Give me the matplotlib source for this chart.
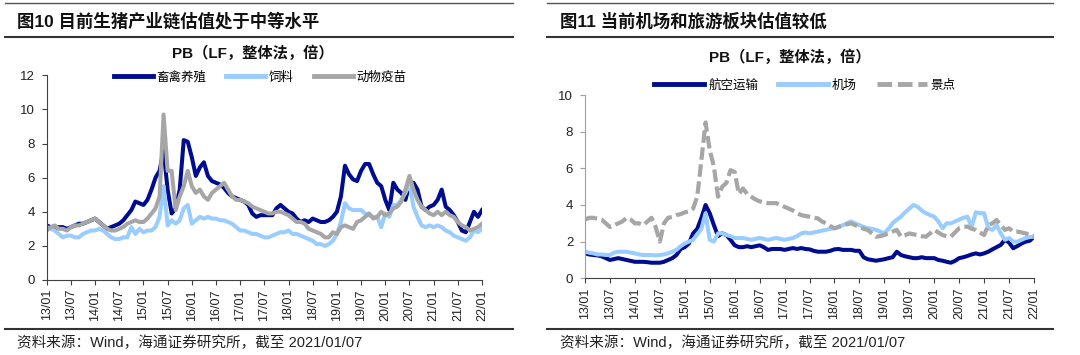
import numpy as np
import matplotlib
matplotlib.use("Agg")
import matplotlib.pyplot as plt
from matplotlib.lines import Line2D

# month index 0 = 2013/01 ... 108 = 2022/01
tick_labels = ["13/01", "13/07", "14/01", "14/07", "15/01", "15/07", "16/01", "16/07",
               "17/01", "17/07", "18/01", "18/07", "19/01", "19/07", "20/01", "20/07",
               "21/01", "21/07", "22/01"]

# 图10: PB of pig industry chain
livestock = [3.2, 3.1, 3.0, 3.1, 3.1, 3.0, 3.1, 3.2, 3.3, 3.3, 3.4, 3.5, 3.6, 3.4, 3.2, 3.0,
             3.1, 3.2, 3.3, 3.5, 3.8, 4.1, 4.6, 4.5, 4.4, 4.7, 5.3, 6.0, 6.4, 7.6, 5.3, 3.9,
             4.2, 5.3, 8.2, 8.1, 7.2, 6.1, 6.6, 6.9, 6.1, 5.8, 5.7, 5.6, 5.4, 5.1, 4.9, 4.8,
             4.7, 4.6, 4.4, 3.9, 3.7, 3.8, 3.8, 3.8, 3.8, 4.2, 4.4, 4.2, 4.0, 3.9, 3.6, 3.4,
             3.5, 3.4, 3.6, 3.5, 3.4, 3.4, 3.5, 3.7, 4.0, 4.9, 6.7, 6.2, 5.9, 5.8, 6.4, 6.8,
             6.8, 6.2, 5.7, 5.5, 4.7, 4.1, 5.7, 5.3, 5.1, 4.7, 5.6, 5.7, 5.3, 4.3, 4.1, 4.3,
             4.4, 4.7, 5.3, 4.3, 4.1, 3.8, 3.4, 2.9, 2.8, 3.4, 4.0, 3.7, 4.1]
feed = [3.1, 3.0, 2.9, 2.7, 2.5, 2.6, 2.6, 2.5, 2.5, 2.7, 2.8, 2.9, 2.9, 3.0, 2.9, 2.7,
        2.5, 2.4, 2.4, 2.5, 2.5, 3.1, 2.7, 3.0, 2.8, 2.9, 2.9, 3.1, 3.7, 5.5, 3.2, 3.5,
        3.3, 3.5, 4.2, 4.4, 3.3, 3.5, 3.7, 3.6, 3.7, 3.6, 3.6, 3.5, 3.5, 3.4, 3.3, 3.1,
        2.9, 2.9, 2.8, 2.7, 2.7, 2.6, 2.5, 2.5, 2.6, 2.7, 2.8, 2.8, 2.9, 2.7, 2.7, 2.6,
        2.5, 2.4, 2.3, 2.1, 2.1, 2.0, 2.1, 2.3, 2.7, 3.4, 4.5, 4.2, 4.1, 4.1, 4.1, 3.9,
        3.8, 3.7, 3.7, 3.1, 3.9, 3.7, 4.4, 4.4, 4.7, 5.1, 5.7, 4.3, 3.7, 3.2, 3.1, 3.2,
        3.1, 3.2, 3.1, 2.9, 2.8, 2.6, 2.5, 2.4, 2.3, 2.5, 2.9, 2.8, 3.0]
vaccine = [2.9, 3.1, 3.2, 3.0, 3.0, 2.9, 3.1, 3.2, 3.2, 3.3, 3.4, 3.5, 3.6, 3.4, 3.2, 3.0,
           2.9, 2.9, 3.0, 3.1, 3.3, 3.4, 3.5, 3.4, 3.4, 3.6, 3.9, 4.2, 4.9, 9.7, 6.4, 6.4,
           4.1, 4.9, 5.5, 6.4, 5.5, 5.1, 5.3, 4.9, 4.7, 5.1, 5.3, 5.5, 5.7, 5.3, 4.9, 4.7,
           4.7, 4.6, 4.5, 4.3, 4.2, 4.1, 4.0, 3.9, 3.9, 4.0, 4.0, 3.9, 3.8, 3.6, 3.4, 3.4,
           3.3, 3.0, 2.9, 2.8, 2.7, 2.5, 2.5, 2.8, 2.7, 3.1, 3.2, 3.1, 3.0, 3.4, 3.5, 3.7,
           3.9, 3.6, 3.7, 4.0, 3.8, 3.9, 4.2, 4.3, 4.6, 5.3, 6.1, 5.3, 4.7, 4.3, 4.1, 3.9,
           3.8, 4.0, 3.8, 4.0, 3.8, 3.7, 3.4, 3.2, 3.1, 2.9, 3.0, 3.1, 3.3]

# 图11: PB of airlines, airports, scenic spots
airline = [1.36, 1.3, 1.27, 1.25, 1.2, 1.1, 1.0, 1.05, 1.1, 1.05, 1.0, 0.95, 0.9, 0.9, 0.9, 0.88,
           0.85, 0.85, 0.85, 0.9, 1.0, 1.1, 1.27, 1.6, 1.7, 1.9, 2.45, 2.7, 3.3, 4.0, 3.55, 2.9,
           2.3, 2.45, 2.36, 2.1, 1.8, 1.7, 1.7, 1.75, 1.7, 1.75, 1.8, 1.7, 1.55, 1.6, 1.6, 1.6,
           1.55, 1.6, 1.65, 1.6, 1.65, 1.6, 1.58, 1.5, 1.45, 1.45, 1.45, 1.5, 1.58, 1.6, 1.55, 1.55,
           1.55, 1.5, 1.5, 1.15, 1.04, 1.0, 0.96, 1.0, 1.04, 1.1, 1.15, 1.45, 1.27, 1.2, 1.15, 1.1,
           1.1, 1.15, 1.1, 1.1, 1.1, 1.0, 0.96, 0.9, 0.85, 0.95, 1.1, 1.15, 1.22, 1.3, 1.36, 1.3,
           1.36, 1.45, 1.58, 1.7, 1.82, 2.1, 1.95, 1.64, 1.76, 1.9, 2.0, 2.05, 2.27]
airport = [1.45, 1.4, 1.36, 1.3, 1.3, 1.27, 1.27, 1.4, 1.45, 1.45, 1.45, 1.4, 1.36, 1.3, 1.27, 1.27,
           1.27, 1.25, 1.27, 1.3, 1.36, 1.45, 1.55, 1.75, 1.9, 2.0, 2.1, 2.4, 2.7, 3.55, 2.1, 2.0,
           2.45, 2.45, 2.36, 2.3, 2.2, 2.2, 2.2, 2.15, 2.1, 2.15, 2.2, 2.15, 2.1, 2.15, 2.2, 2.15,
           2.1, 2.15, 2.2, 2.3, 2.45, 2.5, 2.45, 2.5, 2.55, 2.6, 2.64, 2.7, 2.73, 2.8, 2.9, 3.0,
           3.1, 3.0, 2.9, 2.8, 2.73, 2.7, 2.64, 2.55, 2.45, 2.7, 3.0, 3.2, 3.36, 3.6, 3.8, 4.0,
           3.9, 3.7, 3.55, 3.45, 3.36, 3.1, 2.73, 3.0, 3.0, 3.1, 3.2, 3.3, 3.36, 2.8, 3.6, 3.55,
           3.55, 2.73, 2.64, 2.9, 2.45, 2.1, 2.2, 2.0, 2.0, 2.1, 2.2, 2.25, 2.27]
scenic = [3.2, 3.3, 3.3, 3.25, 3.2, 3.0, 2.8, 2.9, 3.0, 3.1, 3.3, 3.2, 3.0, 3.0, 2.9, 3.1,
          3.3, 2.8, 2.0, 3.0, 3.3, 3.35, 3.45, 3.5, 3.6, 3.65, 3.8, 4.45, 6.45, 8.5, 7.0, 6.1,
          4.45, 5.0, 5.2, 5.9, 5.8, 4.6, 4.9, 4.6, 4.45, 4.3, 4.2, 4.15, 4.1, 4.1, 4.1, 4.0,
          3.9, 3.8, 3.7, 3.55, 3.45, 3.4, 3.36, 3.3, 3.27, 3.1, 3.0, 2.85, 2.73, 2.8, 2.9, 2.95,
          3.0, 2.9, 2.8, 2.7, 2.64, 2.45, 2.27, 2.3, 2.36, 2.45, 2.55, 2.64, 2.27, 2.35, 2.45, 2.4,
          2.36, 2.3, 2.27, 2.45, 2.64, 2.5, 2.36, 2.3, 2.27, 2.5, 2.73, 2.8, 2.82, 2.7, 2.64, 2.5,
          2.36, 2.9, 3.0, 3.18, 2.9, 2.64, 2.73, 2.55, 2.55, 2.5, 2.45, 2.35, 2.27]

NAVY = "#000c8f"
LIGHT = "#99ccff"
GREY = "#a6a6a6"
CJK = ["Liberation Sans", "Noto Sans CJK SC"]

W, H = 1080, 355


def fx(px):
    return px / W


def fy(py):
    return 1 - py / H


fig = plt.figure(figsize=(10.8, 3.55), dpi=100)
fig.patch.set_facecolor("white")

months = np.arange(len(livestock))


def style_axis(ax, ymax, ystep, ycolor):
    ax.set_xlim(0, 108)
    ax.set_ylim(0, ymax)
    ax.set_yticks(np.arange(0, ymax + 0.1, ystep))
    ax.set_xticks(np.arange(0, 109, 6))
    ax.set_xticklabels(tick_labels, rotation=90, family="Liberation Sans", fontsize=9)
    for lab in ax.get_yticklabels():
        lab.set_family("Liberation Sans")
        lab.set_fontsize(9.5)
    ax.spines["top"].set_visible(False)
    ax.spines["right"].set_visible(False)
    ax.spines["left"].set_color(ycolor)
    ax.spines["bottom"].set_color("#404040")
    ax.tick_params(axis="y", length=3.5, pad=5, colors="#222222")
    ax.tick_params(axis="y", color=ycolor)
    ax.tick_params(axis="x", length=3.5, pad=3, colors="#222222")
    ax.tick_params(axis="x", color="#404040")


# left chart
axL = fig.add_axes([fx(46.7), fy(280), fx(482 - 46.7), (280 - 75.3) / H])
axL.plot(months, livestock, color=NAVY, lw=2.9, solid_joinstyle="round")
axL.plot(months, feed, color=LIGHT, lw=2.9, solid_joinstyle="round")
axL.plot(months, vaccine, color=GREY, lw=2.9, solid_joinstyle="round")
style_axis(axL, 12, 2, "#404040")

hL = [Line2D([], [], color=NAVY, lw=3.5), Line2D([], [], color=LIGHT, lw=3.5),
      Line2D([], [], color=GREY, lw=3.5)]
axL.legend(hL, ["畜禽养殖", "饲料", "动物疫苗"], loc="center", ncol=3, frameon=False,
           bbox_to_anchor=(fx(260), fy(77)), bbox_transform=fig.transFigure,
           handlelength=3.1, handletextpad=0.3, columnspacing=1.6,
           prop={"family": "Noto Sans CJK SC", "size": 9})

# right chart
axR = fig.add_axes([fx(585), fy(278.3), fx(1034 - 585), (278.3 - 95) / H])
axR.plot(months, airline, color=NAVY, lw=2.9, solid_joinstyle="round")
axR.plot(months, airport, color=LIGHT, lw=2.9, solid_joinstyle="round")
axR.plot(months, scenic, color=GREY, lw=3.0, dashes=(3.0, 1.1), dash_capstyle="butt")
style_axis(axR, 10, 2, "#a0a0a0")

hR = [Line2D([], [], color=NAVY, lw=3.5), Line2D([], [], color=LIGHT, lw=3.5),
      Line2D([], [], color=GREY, lw=3.5, dashes=(3, 1.2))]
axR.legend(hR, ["航空运输", "机场", "景点"], loc="center", ncol=3, frameon=False,
           bbox_to_anchor=(fx(805), fy(85)), bbox_transform=fig.transFigure,
           handlelength=4.0, handletextpad=0.3, columnspacing=1.6,
           prop={"family": "Noto Sans CJK SC", "size": 9})

# frames, titles, notes
for x0, x1 in [(5, 513), (547, 1053)]:
    fig.add_artist(Line2D([fx(x0), fx(x1)], [fy(3.3), fy(3.3)], color="#555555", lw=1.0))
    fig.add_artist(Line2D([fx(x0), fx(x1)], [fy(37), fy(37)], color="#333333", lw=1.5))
    fig.add_artist(Line2D([fx(x0), fx(x1)], [fy(329), fy(329)], color="#333333", lw=1.5))

fig.text(fx(17), fy(21), "图10 目前生猪产业链估值处于中等水平", family=CJK, weight="bold",
         fontsize=12.5, va="center", ha="left", color="#111111")
fig.text(fx(560), fy(21), "图11 当前机场和旅游板块估值较低", family=CJK, weight="bold",
         fontsize=12.5, va="center", ha="left", color="#111111")

fig.text(fx(253), fy(53), "PB（LF，整体法，倍）", family=CJK, weight="bold",
         fontsize=11, va="center", ha="center", color="#111111")
fig.text(fx(790), fy(57), "PB（LF，整体法，倍）", family=CJK, weight="bold",
         fontsize=11, va="center", ha="center", color="#111111")

note = "资料来源：Wind，海通证券研究所，截至 2021/01/07"
fig.text(fx(17), fy(343), note, family=CJK, fontsize=10.5, va="center", ha="left", color="#222222")
fig.text(fx(560), fy(343), note, family=CJK, fontsize=10.5, va="center", ha="left", color="#222222")

fig.savefig("out.png", dpi=100, facecolor="white")
